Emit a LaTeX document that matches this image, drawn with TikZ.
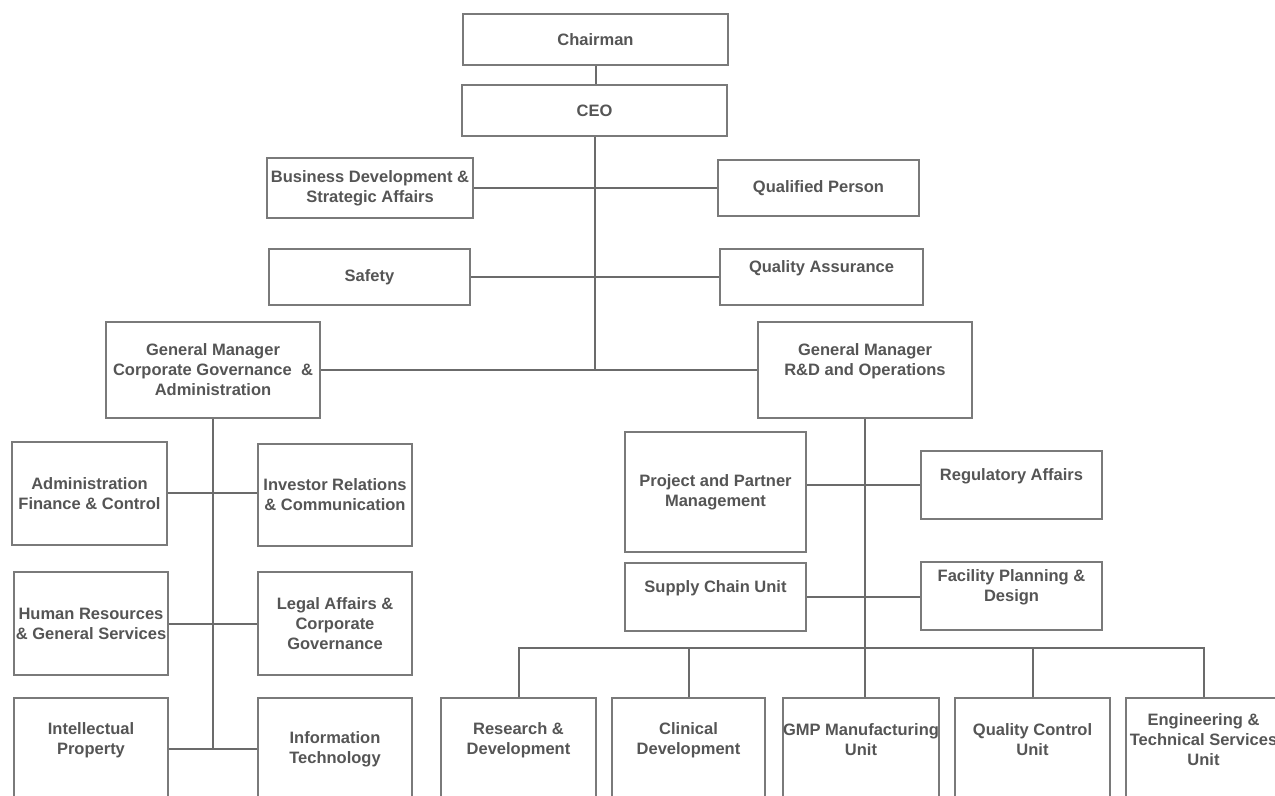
\documentclass[tikz,border=0pt]{standalone}
\usepackage{fontspec}
\setmainfont{Liberation Sans}
\usetikzlibrary{fit}
\definecolor{boxgray}{HTML}{7A7A7A}
\definecolor{wiregray}{HTML}{6B6B6B}
\definecolor{textgray}{HTML}{555555}

\begin{document}
\begin{tikzpicture}[x=0.5pt,y=-0.5pt,
    unit/.style={draw=boxgray, line width=1pt, inner sep=0pt, fill=white},
    lbl/.style={font=\fontsize{8.25}{10}\selectfont\bfseries, text=textgray, align=center},
    up/.style={lbl, yshift=4.5pt},
    wire/.style={draw=wiregray, line width=1pt}]
    \useasboundingbox (0,0) rectangle (1275,796);
    \clip (0,0) rectangle (1275,796);
    \fill[white] (0,0) rectangle (1275,796);
    % top of the chart
    \node[unit, fit={(463,14) (728,65)}, label={[lbl]center:Chairman}] (chair) {};
    \node[unit, fit={(462,85) (727,136)}, label={[lbl]center:CEO}] (ceo) {};
    \node[unit, fit={(267,158) (473,218)}, label={[lbl]center:{Business Development \&\\Strategic Affairs}}] (busdev) {};
    \node[unit, fit={(718,160) (919,216)}, label={[lbl]center:Qualified Person}] (qp) {};
    \node[unit, fit={(269,249) (470,305)}, label={[lbl]center:Safety}] (safety) {};
    \node[unit, fit={(720,249) (923,305)}, label={[up]center:Quality Assurance}] (qa) {};
    \node[unit, fit={(106,322) (320,418)}, label={[lbl]center:{General Manager\\Corporate Governance\ \ \&\\Administration}}] (gmc) {};
    \node[unit, fit={(758,322) (972,418)}, label={[up]center:{General Manager\\R\&D and Operations}}] (gmr) {};
    % corporate side
    \node[unit, fit={(12,442) (167,545)}, label={[lbl]center:{Administration\\Finance \& Control}}] (afc) {};
    \node[unit, fit={(258,444) (412,546)}, label={[lbl]center:{Investor Relations\\\& Communication}}] (irc) {};
    \node[unit, fit={(14,572) (168,675)}, label={[lbl]center:{Human Resources\\\& General Services}}] (hr) {};
    \node[unit, fit={(258,572) (412,675)}, label={[lbl]center:{Legal Affairs \&\\Corporate\\Governance}}] (legal) {};
    \node[unit, fit={(14,698) (168,800)}, label={[up]center:{Intellectual\\Property}}] (ip) {};
    \node[unit, fit={(258,698) (412,800)}, label={[lbl]center:{Information\\Technology}}] (it) {};
    % R&D and operations side
    \node[unit, fit={(625,432) (806,552)}, label={[lbl]center:{Project and Partner\\Management}}] (ppm) {};
    \node[unit, fit={(921,451) (1102,519)}, label={[up]center:Regulatory Affairs}] (reg) {};
    \node[unit, fit={(625,563) (806,631)}, label={[up]center:Supply Chain Unit}] (scu) {};
    \node[unit, fit={(921,562) (1102,630)}, label={[up]center:{Facility Planning \&\\Design}}] (fpd) {};
    \node[unit, fit={(441,698) (596,800)}, label={[up]center:{Research \&\\Development}}] (rd) {};
    \node[unit, fit={(612,698) (765,800)}, label={[up]center:{Clinical\\Development}}] (clin) {};
    \node[unit, fit={(783,698) (939,800)}, label={[up]center:{GMP Manufacturing\\Unit}}] (gmp) {};
    \node[unit, fit={(955,698) (1110,800)}, label={[up]center:{Quality Control\\Unit}}] (qc) {};
    \node[unit, fit={(1126,698) (1281,800)}, label={[up]center:{Engineering \&\\Technical Services\\Unit}}] (eng) {};
    \coordinate (bus) at (865,648);
    % connectors
    \draw[wire] (chair.south) -- (chair.south |- ceo.north);
    \draw[wire] (ceo.south) -- (ceo.south |- gmc.east);
    \draw[wire] (busdev.east) -- (qp.west);
    \draw[wire] (safety.east) -- (safety.east -| qa.west);
    \draw[wire] (gmc.east) -- (gmr.west);
    \draw[wire] (gmc.south) -- (gmc.south |- ip.east);
    \draw[wire] (afc.east) -- (afc.east -| irc.west);
    \draw[wire] (hr.east) -- (hr.east -| legal.west);
    \draw[wire] (ip.east) -- (ip.east -| it.west);
    \draw[wire] (gmr.south) -- (gmr.south |- gmp.north);
    \draw[wire] (reg.west) -- (reg.west -| ppm.east);
    \draw[wire] (scu.east) -- (scu.east -| fpd.west);
    \draw[wire] (rd.north) |- (bus) -| (eng.north);
    \foreach \n in {clin,qc}
        \draw[wire] (\n.north) -- (\n.north |- bus);
\end{tikzpicture}
\end{document}
